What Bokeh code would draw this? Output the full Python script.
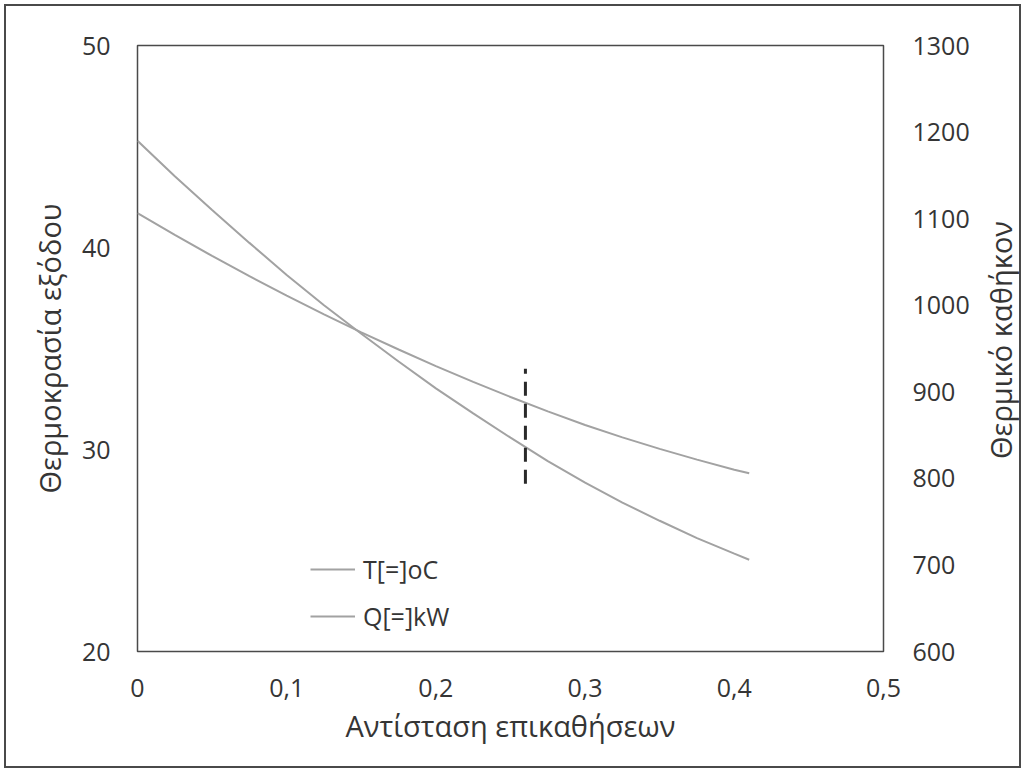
from bokeh.plotting import figure
from bokeh.layouts import row
from bokeh.models import Range1d, LinearAxis, FixedTicker, CustomJSTickFormatter, Legend, LegendItem, Div
from bokeh.embed import file_html
from bokeh.resources import INLINE

# ---- data ----
x_vals = [0.0, 0.025, 0.05, 0.075, 0.1, 0.125, 0.15, 0.175, 0.2, 0.225,
          0.25, 0.275, 0.3, 0.325, 0.35, 0.375, 0.4, 0.41]
t_vals = [41.7, 40.62, 39.58, 38.58, 37.62, 36.69, 35.80, 34.95, 34.13, 33.35,
          32.60, 31.89, 31.21, 30.60, 30.03, 29.50, 29.00, 28.82]          # T [=] oC (left axis)
q_vals = [1190, 1149, 1110, 1072, 1035, 1000, 967, 935, 904, 875,
          847, 820, 795, 772, 751, 731, 713, 706]                          # Q [=] kW (right axis)
marker_x = [0.26, 0.26]
marker_y = [28.3, 34.0]
x_ticks = [0, 0.1, 0.2, 0.3, 0.4, 0.5]
t_ticks = [20, 30, 40, 50]
q_ticks = [600, 700, 800, 900, 1000, 1100, 1200, 1300]
right_title = "Θερμικό καθήκον"

FONT = "Open Sans"
TXT = "#353535"
LINE = "#a2a2a2"

p = figure(width=977, height=760, output_backend="svg", toolbar_location=None,
           x_range=Range1d(0, 0.5), y_range=Range1d(20, 50),
           min_border_left=131, min_border_top=39, min_border_right=100, min_border_bottom=115)
p.extra_y_ranges = {"q": Range1d(600, 1300)}
p.grid.visible = False
p.outline_line_color = "#4a4a4a"
p.outline_line_width = 1.5
p.background_fill_color = "white"
p.border_fill_color = "white"

fmt = CustomJSTickFormatter(code="return tick == 0 ? '0' : tick.toFixed(1).replace('.', ',');")

def style_axis(ax, standoff, title_standoff):
    ax.axis_line_color = None
    ax.major_tick_line_color = None
    ax.minor_tick_line_color = None
    ax.major_tick_out = 0
    ax.major_tick_in = 0
    ax.major_label_standoff = standoff
    ax.axis_label_standoff = title_standoff
    ax.major_label_text_font = FONT
    ax.major_label_text_font_size = "25px"
    ax.major_label_text_color = TXT
    ax.axis_label_text_font = FONT
    ax.axis_label_text_font_size = "29px"
    ax.axis_label_text_font_style = "normal"
    ax.axis_label_text_color = TXT

xa = p.xaxis[0]
xa.ticker = FixedTicker(ticks=x_ticks)
xa.formatter = fmt
xa.axis_label = "Αντίσταση επικαθήσεων"
style_axis(xa, 27, 6)

ya = p.yaxis[0]
ya.ticker = FixedTicker(ticks=t_ticks)
ya.axis_label = "Θερμοκρασία εξόδου"
style_axis(ya, 27, 10)

ra = LinearAxis(y_range_name="q")
ra.ticker = FixedTicker(ticks=q_ticks)
style_axis(ra, 29, 0)
p.add_layout(ra, "right")

r_t = p.line(x_vals, t_vals, line_color=LINE, line_width=2)
r_q = p.line(x_vals, q_vals, line_color=LINE, line_width=2, y_range_name="q")
p.line(marker_x, marker_y, line_color="#2a2a2a", line_width=3, line_dash="14 8")

legend = Legend(items=[LegendItem(label="T[=]oC", renderers=[r_t]),
                       LegendItem(label="Q[=]kW", renderers=[r_q])],
                location=(173, 18), glyph_width=45, glyph_height=30, label_height=30,
                spacing=13, padding=0, margin=0, label_standoff=8,
                background_fill_alpha=0, border_line_color=None,
                label_text_font=FONT, label_text_font_size="25px", label_text_color=TXT)
p.add_layout(legend, "center")

# right-axis title, reading bottom-to-top like the left one
title_div = Div(text=right_title, width=36, height=668, margin=0,
                styles={"writing-mode": "vertical-rl", "transform": "rotate(180deg)",
                        "text-align": "center", "font-family": FONT, "font-size": "29px",
                        "line-height": "36px", "color": TXT, "white-space": "nowrap",
                        "background": "white"})

layout = row(p, title_div, spacing=0,
             styles={"border": "2px solid #4a4a4a", "margin": "4px", "background": "white"})

open("out.html", "w").write(file_html(layout, INLINE))
